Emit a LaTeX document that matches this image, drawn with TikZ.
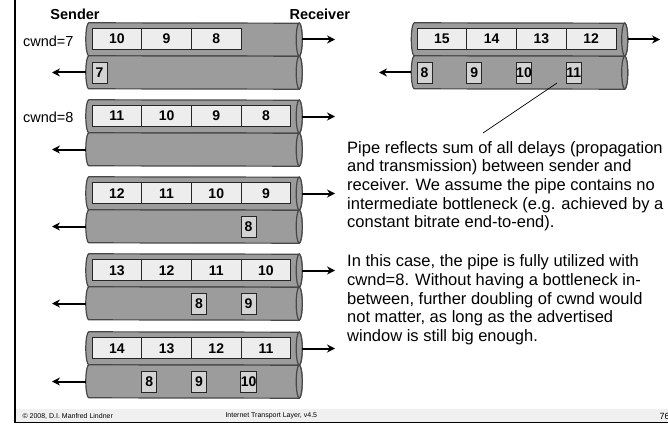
\documentclass[tikz,border=0pt]{standalone}
\usepackage{fontspec}
\setmainfont{Liberation Sans}
\usetikzlibrary{arrows.meta,positioning}

\tikzset{
  tube/.style={minimum width=216pt, minimum height=33pt, inner sep=0pt},
  pipe/.style={draw=black!72, fill=black!39, line width=1.2pt},
  seg/.style={draw=black!85, fill=black!7, line width=0.8pt, inner sep=0pt,
    minimum width=49.7pt, minimum height=21pt, text height=10pt, text depth=0pt,
    font=\fontsize{14}{14}\selectfont\bfseries},
  ack/.style={draw=black!85, fill=black!17, line width=0.8pt, inner sep=0pt,
    minimum width=15pt, minimum height=21pt, text height=10pt, text depth=0pt,
    font=\fontsize{14}{14}\selectfont\bfseries},
  flow/.style={-{Stealth[length=8pt,width=8pt]}, line width=2pt},
  lbl/.style={font=\fontsize{14.5}{15}\selectfont},
}

\begin{document}
\begin{tikzpicture}[x=1pt,y=-1pt]
\useasboundingbox (0,0) rectangle (668,425);
% frame and footer
\fill[black!6] (15,409) rectangle (668,422);
\draw[line width=1.2pt] (15,0) -- (15,422.5) -- (668,422.5);
\node[anchor=west, font=\fontsize{7}{8}\selectfont] (copy) at (19,416) {\textcopyright{} 2008, D.I. Manfred Lindner};
\node[anchor=west, font=\fontsize{7}{8}\selectfont] (title) at (222,416) {Internet Transport Layer, v4.5};
\node[anchor=west, font=\fontsize{9}{9}\selectfont] (page) at (656,416) {76};

\node[lbl, font=\fontsize{14.5}{15}\selectfont\bfseries] (snd) at (75,14) {Sender};
\node[lbl, font=\fontsize{14.5}{15}\selectfont\bfseries, anchor=west] (rcv) at (286,14) {Receiver};
\node[lbl, anchor=east] (cw7) at (77,41) {cwnd=7};
\node[lbl, anchor=east] (cw8) at (77,117) {cwnd=8};

% tube nodes
\foreach \p/\ty in {1/23,2/100,3/177,4/254,5/332} {
  \node[tube] (up\p) at (194,\ty+16.5) {};
  \node[tube] (dn\p) at (194,\ty+49.5) {};
}
\node[tube] (upR) at (519.5,39.5) {};
\node[tube] (dnR) at (519.5,72.5) {};

% the pipe bodies
\foreach \t in {up1,dn1,up2,dn2,up3,dn3,up4,dn4,up5,dn5,upR,dnR} {
  \draw[pipe] ([xshift=3pt]\t.north west)
    arc[start angle=90, end angle=270, x radius=3pt, y radius=16.5pt]
    -- ([xshift=-3pt]\t.south east)
    arc[start angle=-90, end angle=90, x radius=3pt, y radius=16.5pt] -- cycle;
  \draw[pipe] ([xshift=-3pt]\t.east) ellipse[x radius=3pt, y radius=16.5pt];
}

% segments and arrows, left side
\foreach \p/\ty/\segs in {1/23/{10,9,8},2/100/{11,10,9,8},3/177/{12,11,10,9},
                          4/254/{13,12,11,10},5/332/{14,13,12,11}} {
  \foreach \n [count=\c] in \segs
    \node[seg] (s\p-\c) at (92+49.7*\c-24.85,\ty+16) {\n};
  \coordinate (out\p) at (335,\ty+16.5);
  \coordinate (in\p) at (52,\ty+49.5);
  \draw[flow] (up\p.east) -- (out\p);
  \draw[flow] (dn\p.west) -- (in\p);
}

% acks on the way back
\node[ack] (a1-1) at (99.5,72.5) {7};
\node[ack] (a3-4) at (248.6,226.5) {8};
\node[ack] (a4-3) at (198.9,303.5) {8};
\node[ack] (a4-4) at (248.6,303.5) {9};
\node[ack] (a5-2) at (149.2,381.5) {8};
\node[ack] (a5-3) at (198.9,381.5) {9};
\node[ack] (a5-4) at (248.6,381.5) {10};

% the pipe on the right
\foreach \n [count=\c] in {15,14,13,12}
  \node[seg] (sR-\c) at (417+49.75*\c-24.9,39) {\n};
\foreach \n [count=\c] in {8,9,10,11}
  \node[ack] (aR-\c) at (417+49.75*\c-42.25,72.5) {\n};
\coordinate (outR) at (660,39.5);
\coordinate (inR) at (379,72.5);
\draw[flow] (upR.east) -- (outR);
\draw[flow] (dnR.west) -- (inR);

% explanation
\node[anchor=north west, align=left, inner sep=0pt,
      font=\fontsize{16.5}{18.7}\selectfont] (note) at (347,141) {Pipe reflects sum of all delays (propagation\\
and transmission) between sender and\\
receiver. We assume the pipe contains no\\
intermediate bottleneck (e.g. achieved by a\\
constant bitrate end-to-end).};
\node[align=left, inner sep=0pt, font=\fontsize{16.5}{18.7}\selectfont,
      below=23pt of note.south west, anchor=north west] (note2) {In this case, the pipe is fully utilized with\\
cwnd=8. Without having a bottleneck in-\\
between, further doubling of cwnd would\\
not matter, as long as the advertised\\
window is still big enough.};
\coordinate (tip) at (557,83);
\coordinate (tail) at (483,133);
\draw[line width=0.7pt] (tip) -- (tail);
\end{tikzpicture}
\end{document}
